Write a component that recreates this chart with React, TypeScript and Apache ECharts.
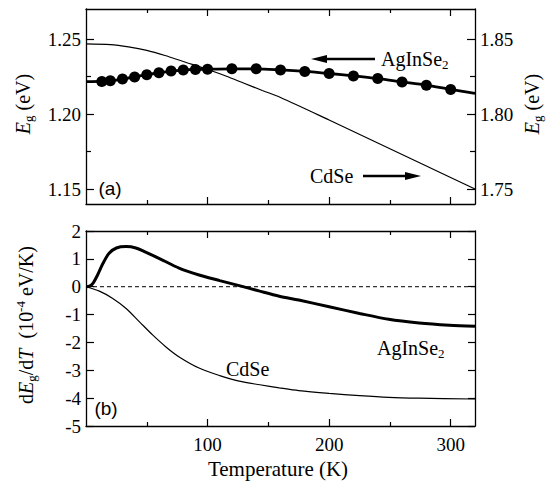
import React, { useEffect, useRef } from "react";
import * as echarts from "echarts";

// ---------- data ----------
// (a) band gap, AgInSe2 (left axis, eV)
const agT = [0, 13, 20, 30, 40, 50, 60, 70, 80, 90, 100, 120, 140, 160, 180, 200, 220, 240, 260, 280, 300, 320];
const agEg = [1.2216, 1.2217, 1.2222, 1.2233, 1.2247, 1.2262, 1.2275, 1.2286, 1.2293, 1.2297, 1.2299, 1.2301, 1.2301, 1.2294, 1.2284, 1.227, 1.2254, 1.2236, 1.2214, 1.2192, 1.2164, 1.2138];
const agMarkerT = [13, 20, 30, 40, 50, 60, 70, 80, 90, 100, 120, 140, 160, 180, 200, 220, 240, 260, 280, 300];
// (a) band gap, CdSe (right axis, eV)
const cdT = [0, 20, 35, 50, 65, 80, 100, 115, 130, 145, 160, 200, 240, 280, 320];
const cdEg = [1.8467, 1.8462, 1.8447, 1.8424, 1.839, 1.835, 1.8298, 1.8253, 1.8205, 1.8157, 1.811, 1.796, 1.7807, 1.7653, 1.75];
// (b) dEg/dT, AgInSe2 (1e-4 eV/K)
const agdT = [0, 3, 6, 9.5, 14, 19, 25, 33, 41, 49, 60, 77, 93, 110, 126, 143, 159, 175, 200, 225, 249, 274, 299, 320];
const agdV = [0, 0.02, 0.14, 0.42, 0.84, 1.2, 1.39, 1.44, 1.39, 1.24, 1.02, 0.66, 0.42, 0.22, 0.04, -0.16, -0.34, -0.48, -0.72, -0.96, -1.17, -1.3, -1.38, -1.42];
// (b) dEg/dT, CdSe
const cddT = [0, 11, 22, 33, 44, 55, 66, 77, 93, 110, 126, 143, 159, 175, 200, 225, 249, 274, 320];
const cddV = [0, -0.16, -0.42, -0.78, -1.26, -1.74, -2.17, -2.53, -2.92, -3.19, -3.39, -3.52, -3.63, -3.73, -3.83, -3.91, -3.97, -4.0, -4.03];

// ticks
const xRange = [0, 320];
const xMajor = [100, 200, 300];
const xMinor = [50, 150, 250];
const egLeftRange = [1.14, 1.27];
const egLeftMajor = [1.15, 1.2, 1.25];
const egLeftMinor = [1.175, 1.225];
const egRightRange = [1.74, 1.87];
const egRightMajor = [1.75, 1.8, 1.85];
const egRightMinor = [1.775, 1.825];
const dRange = [-5, 2];
const dTicks = [-5, -4, -3, -2, -1, 0, 1, 2];

const SERIF = "Liberation Serif";
const SANS = "Liberation Sans";
const AXLINE = { color: "#000", width: 1.3 };

function xAx(gridIndex: number, position: string, ticks: number[], len: number, line: boolean, labels?: number[]) {
  return {
    type: "value",
    gridIndex,
    position,
    min: xRange[0],
    max: xRange[1],
    axisLine: { show: line, onZero: false, lineStyle: AXLINE },
    axisTick: { show: true, inside: true, length: len, customValues: ticks, lineStyle: { color: "#000", width: 1.2 } },
    axisLabel: labels
      ? { show: true, customValues: labels, margin: 9, fontSize: 19, fontFamily: SERIF, color: "#000" }
      : { show: false },
    splitLine: { show: false },
  };
}

function yAx(gridIndex: number, position: string, range: number[], ticks: number[], len: number, line: boolean, labels?: number[], fmt?: (v: number) => string) {
  return {
    type: "value",
    gridIndex,
    position,
    min: range[0],
    max: range[1],
    axisLine: { show: line, onZero: false, lineStyle: AXLINE },
    axisTick: { show: true, inside: true, length: len, customValues: ticks, lineStyle: { color: "#000", width: 1.2 } },
    axisLabel: labels
      ? { show: true, customValues: labels, margin: 5, fontSize: 19, fontFamily: SERIF, color: "#000", formatter: fmt }
      : { show: false },
    splitLine: { show: false },
  };
}

const rich = {
  i: { fontStyle: "italic", fontSize: 20, fontFamily: SERIF, fill: "#000", lineHeight: 24 },
  n: { fontSize: 20, fontFamily: SERIF, fill: "#000", lineHeight: 24 },
  s: { fontSize: 13, fontFamily: SERIF, fill: "#000", lineHeight: 14, verticalAlign: "bottom" },
  p: { fontSize: 13, fontFamily: SERIF, fill: "#000", lineHeight: 12, verticalAlign: "top" },
};

export default function App() {
  const ref = useRef<HTMLDivElement>(null);
  useEffect(() => {
    if (!ref.current) return;
    const chart = echarts.init(ref.current, undefined, { renderer: "svg" });
    const f2 = (v: number) => v.toFixed(2);
    chart.setOption({
      animation: false,
      backgroundColor: "#fff",
      textStyle: { fontFamily: SERIF, color: "#000" },
      grid: [
        { left: 86, top: 9, width: 389, height: 195 },
        { left: 86, top: 231, width: 389, height: 195 },
      ],
      xAxis: [
        xAx(0, "bottom", xMajor, 7, true),
        xAx(0, "bottom", xMinor, 4, false),
        xAx(0, "top", xMajor, 7, true),
        xAx(0, "top", xMinor, 4, false),
        xAx(1, "bottom", xMajor, 7, true, xMajor),
        xAx(1, "bottom", xMinor, 4, false),
        xAx(1, "top", xMajor, 7, true),
        xAx(1, "top", xMinor, 4, false),
      ],
      yAxis: [
        yAx(0, "left", egLeftRange, egLeftMajor, 8, true, egLeftMajor, f2),
        yAx(0, "left", egLeftRange, egLeftMinor, 5, false),
        yAx(0, "right", egRightRange, egRightMajor, 8, true, egRightMajor, f2),
        yAx(0, "right", egRightRange, egRightMinor, 5, false),
        yAx(1, "left", dRange, dTicks, 8, true, dTicks),
        yAx(1, "right", dRange, dTicks, 7, true),
      ],
      series: [
        {
          type: "line",
          xAxisIndex: 0,
          yAxisIndex: 0,
          data: agT.map((t, i) => ({ value: [t, agEg[i]], symbolSize: agMarkerT.includes(t) ? 11 : 0 })),
          symbol: "circle",
          showSymbol: true,
          smooth: 0.3,
          lineStyle: { color: "#000", width: 2.8 },
          itemStyle: { color: "#000" },
          z: 4,
        },
        {
          type: "line",
          xAxisIndex: 0,
          yAxisIndex: 2,
          data: cdT.map((t, i) => [t, cdEg[i]]),
          symbol: "none",
          smooth: 0.3,
          lineStyle: { color: "#000", width: 1.2 },
          z: 3,
        },
        {
          type: "line",
          xAxisIndex: 4,
          yAxisIndex: 4,
          data: [[xRange[0], 0], [xRange[1], 0]],
          symbol: "none",
          lineStyle: { color: "#000", width: 1, type: [4, 3] },
          z: 2,
        },
        {
          type: "line",
          xAxisIndex: 4,
          yAxisIndex: 4,
          data: agdT.map((t, i) => [t, agdV[i]]),
          symbol: "none",
          smooth: 0.3,
          lineStyle: { color: "#000", width: 3 },
          z: 4,
        },
        {
          type: "line",
          xAxisIndex: 4,
          yAxisIndex: 4,
          data: cddT.map((t, i) => [t, cddV[i]]),
          symbol: "none",
          smooth: 0.3,
          lineStyle: { color: "#000", width: 1.2 },
          z: 3,
        },
      ],
      graphic: [
        // axis titles
        { type: "text", x: 23, y: 104, rotation: Math.PI / 2, style: { text: "{i|E}{s|g}{n| (eV)}", rich, align: "center", verticalAlign: "middle" } },
        { type: "text", x: 532, y: 104, rotation: Math.PI / 2, style: { text: "{i|E}{s|g}{n| (eV)}", rich, align: "center", verticalAlign: "middle" } },
        { type: "text", x: 26, y: 325, rotation: Math.PI / 2, style: { text: "{n|d}{i|E}{s|g}{n|/d}{i|T}{n|  (10}{p|-4}{n| eV/K)}", rich, align: "center", verticalAlign: "middle" } },
        { type: "text", x: 278, y: 469, style: { text: "Temperature (K)", fontSize: 21, fontFamily: SERIF, fill: "#000", align: "center", verticalAlign: "middle" } },
        // panel tags
        { type: "text", x: 110, y: 188, style: { text: "(a)", fontSize: 19, fontFamily: SANS, fill: "#000", align: "center", verticalAlign: "middle" } },
        { type: "text", x: 106, y: 408, style: { text: "(b)", fontSize: 19, fontFamily: SANS, fill: "#000", align: "center", verticalAlign: "middle" } },
        // annotations
        { type: "text", x: 381, y: 59, style: { text: "{n|AgInSe}{s|2}", rich, align: "left", verticalAlign: "middle" } },
        { type: "line", shape: { x1: 375, y1: 59, x2: 322, y2: 59 }, style: { stroke: "#000", lineWidth: 2.4 } },
        { type: "polygon", shape: { points: [[311, 59], [327, 55], [327, 63]] }, style: { fill: "#000" } },
        { type: "text", x: 310, y: 176, style: { text: "CdSe", fontSize: 20, fontFamily: SERIF, fill: "#000", align: "left", verticalAlign: "middle" } },
        { type: "line", shape: { x1: 363, y1: 176, x2: 410, y2: 176 }, style: { stroke: "#000", lineWidth: 2.4 } },
        { type: "polygon", shape: { points: [[421, 176], [405, 172], [405, 180]] }, style: { fill: "#000" } },
        { type: "text", x: 377, y: 348, style: { text: "{n|AgInSe}{s|2}", rich, align: "left", verticalAlign: "middle" } },
        { type: "text", x: 226, y: 369, style: { text: "CdSe", fontSize: 20, fontFamily: SERIF, fill: "#000", align: "left", verticalAlign: "middle" } },
      ],
    });
    return () => chart.dispose();
  }, []);
  return <div ref={ref} style={{ position: "absolute", left: 0, top: 0, width: 549, height: 487, background: "#fff" }} />;
}
